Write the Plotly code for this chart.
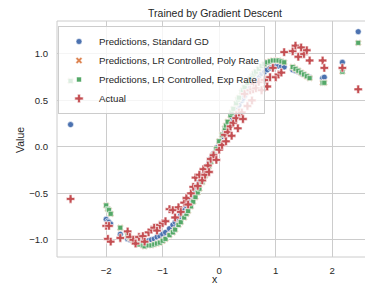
import plotly.graph_objects as go

x_vals = [-2.63, -2.0, -1.97, -1.95, -1.92, -1.75, -1.62, -1.58, -1.52, -1.48,
          -1.42, -1.35, -1.32, -1.25, -1.2, -1.15, -1.1, -1.05, -1.0, -0.95,
          -0.88, -0.82, -0.78, -0.72, -0.68, -0.62, -0.58, -0.55, -0.5, -0.46,
          -0.42, -0.38, -0.35, -0.3, -0.28, -0.25, -0.2, -0.18, -0.15, -0.1,
          -0.05, 0.0, 0.05, 0.1, 0.12, 0.15, 0.2, 0.22, 0.25, 0.3,
          0.33, 0.35, 0.4, 0.42, 0.45, 0.5, 0.55, 0.58, 0.6, 0.62,
          0.65, 0.7, 0.75, 0.8, 0.85, 0.9, 0.95, 1.0, 1.05, 1.1,
          1.15, 1.3, 1.35, 1.4, 1.45, 1.5, 1.55, 1.6, 1.83, 1.86,
          2.18, 2.46]

actual = [-0.56, -0.85, -0.99, -0.85, -1.02, -0.98, -0.91, -0.97, -1.0, -1.04,
          -0.97, -0.96, -1.02, -0.92, -0.89, -0.87, -0.9, -0.84, -0.82, -0.8,
          -0.67, -0.68, -0.76, -0.65, -0.7, -0.6, -0.55, -0.62, -0.5, -0.43,
          -0.33, -0.42, -0.3, -0.36, -0.24, -0.3, -0.2, -0.27, -0.13, -0.09,
          -0.14, -0.03, 0.02, 0.13, 0.06, 0.16, 0.22, 0.12, 0.26, 0.31,
          0.2, 0.37, 0.37, 0.3, 0.57, 0.44, 0.61, 0.5, 0.62, 0.68,
          0.63, 0.7, 0.61, 0.72, 0.65, 0.75, 0.85, 0.75, 0.78, 0.8,
          1.02, 1.03, 1.09, 0.97, 1.07, 1.0, 1.04, 0.93, 0.93, 0.85,
          0.85, 0.62]

pred_standard = [0.24, -0.78, -0.8, -0.81, -0.83, -0.94, -0.99, -1.0, -1.01, -1.02,
                 -1.02, -1.02, -1.02, -1.01, -1.0, -0.99, -0.97, -0.96, -0.94, -0.92,
                 -0.88, -0.84, -0.81, -0.77, -0.73, -0.68, -0.64, -0.61, -0.56, -0.51,
                 -0.47, -0.42, -0.38, -0.32, -0.3, -0.26, -0.2, -0.17, -0.13, -0.07,
                 -0.01, 0.05, 0.11, 0.17, 0.19, 0.23, 0.28, 0.31, 0.34, 0.4,
                 0.43, 0.45, 0.5, 0.52, 0.55, 0.6, 0.64, 0.67, 0.69, 0.7,
                 0.73, 0.76, 0.79, 0.81, 0.83, 0.85, 0.86, 0.87, 0.87, 0.87,
                 0.86, 0.83, 0.82, 0.81, 0.79, 0.78, 0.76, 0.75, 0.74, 0.75,
                 0.91, 1.24]

pred_poly = [0.71, -0.63, -0.67, -0.68, -0.72, -0.87, -0.95, -0.98, -1.01, -1.03,
             -1.05, -1.06, -1.07, -1.06, -1.06, -1.05, -1.04, -1.03, -1.01, -0.99,
             -0.95, -0.92, -0.89, -0.84, -0.81, -0.76, -0.72, -0.69, -0.64, -0.59,
             -0.54, -0.49, -0.45, -0.38, -0.35, -0.31, -0.24, -0.21, -0.16, -0.09,
             -0.02, 0.06, 0.13, 0.2, 0.23, 0.27, 0.34, 0.37, 0.41, 0.47,
             0.51, 0.53, 0.59, 0.61, 0.64, 0.69, 0.73, 0.76, 0.77, 0.79,
             0.81, 0.84, 0.87, 0.89, 0.91, 0.92, 0.93, 0.93, 0.93, 0.92,
             0.91, 0.86, 0.84, 0.82, 0.8, 0.78, 0.76, 0.74, 0.69, 0.69,
             0.81, 1.12]

pred_exp = [0.71, -0.63, -0.67, -0.68, -0.72, -0.87, -0.95, -0.98, -1.01, -1.03,
            -1.05, -1.06, -1.07, -1.06, -1.06, -1.05, -1.04, -1.03, -1.01, -0.99,
            -0.95, -0.92, -0.89, -0.84, -0.81, -0.76, -0.72, -0.69, -0.64, -0.59,
            -0.54, -0.49, -0.45, -0.38, -0.35, -0.31, -0.24, -0.21, -0.16, -0.09,
            -0.02, 0.06, 0.13, 0.2, 0.23, 0.27, 0.34, 0.37, 0.41, 0.47,
            0.51, 0.53, 0.59, 0.61, 0.64, 0.69, 0.73, 0.76, 0.77, 0.79,
            0.81, 0.84, 0.87, 0.89, 0.91, 0.92, 0.93, 0.93, 0.93, 0.92,
            0.91, 0.86, 0.84, 0.82, 0.8, 0.78, 0.76, 0.74, 0.69, 0.69,
            0.81, 1.12]

series = [
    ("Predictions, Standard GD", pred_standard, "#4C72B0", "circle", 6),
    ("Predictions, LR Controlled, Poly Rate", pred_poly, "#DD8452", "x", 6),
    ("Predictions, LR Controlled, Exp Rate", pred_exp, "#55A868", "square", 5),
    ("Actual", actual, "#C44E52", "cross", 7),
]

FONT = "Liberation Sans, Arial, sans-serif"
TXT = "#262626"
L, R, T, B = 57, 0, 21, 27
W, H = 365, 284
PW = W - L - R
PH = H - T - B

fig = go.Figure()
for name, ys, color, symbol, size in series:
    fig.add_trace(go.Scatter(
        x=x_vals, y=ys, mode="markers", name=name,
        marker=dict(color=color, symbol=symbol, size=size,
                    line=dict(color="white", width=0.6)),
    ))

fig.update_layout(
    width=W, height=H,
    margin=dict(l=L, r=R, t=T, b=B, pad=0, autoexpand=False),
    paper_bgcolor="white", plot_bgcolor="white",
    font=dict(family=FONT, color=TXT, size=9.6),
    title=dict(text="Trained by Gradient Descent", x=215 / W, xanchor="center",
               xref="container",
               y=1 - 13 / H, yanchor="middle", yref="container",
               font=dict(size=10.5, color=TXT)),
    legend=dict(x=(58 - L) / PW, y=1 - (26 - T) / PH, xanchor="left", yanchor="top",
                bgcolor="rgba(255,255,255,0.8)", bordercolor="#cccccc",
                borderwidth=1, font=dict(size=9.7, color=TXT),
                tracegroupgap=0),
    showlegend=True,
)
fig.update_xaxes(range=[-2.87, 2.58], tickvals=[-2, -1, 0, 1, 2],
                 automargin=False,
                 showgrid=True, gridcolor="#cccccc", gridwidth=1,
                 zeroline=False, showline=False,
                 ticks="outside", ticklen=4, tickcolor="rgba(0,0,0,0)",
                 tickfont=dict(size=9.6, color=TXT))
fig.update_yaxes(range=[-1.185, 1.355], tickvals=[-1.0, -0.5, 0.0, 0.5, 1.0],
                 tickformat=".1f", automargin=False,
                 showgrid=True, gridcolor="#cccccc", gridwidth=1,
                 zeroline=False, showline=False,
                 ticks="outside", ticklen=6, tickcolor="rgba(0,0,0,0)",
                 tickfont=dict(size=9.6, color=TXT))
fig.add_shape(type="rect", xref="paper", yref="paper", x0=0, x1=1.05, y0=0, y1=1,
              line=dict(color="#cccccc", width=1), fillcolor="rgba(0,0,0,0)", layer="below")
fig.add_annotation(text="x", xref="paper", yref="paper", x=(215 - L) / PW,
                   y=-(279 - (H - B)) / PH, xanchor="center", yanchor="middle",
                   showarrow=False, font=dict(size=10.5, color=TXT))
fig.add_annotation(text="Value", xref="paper", yref="paper", x=-(L - 20) / PW,
                   y=0.5 - (140 - (T + PH / 2)) / PH, xanchor="center", yanchor="middle",
                   textangle=-90, showarrow=False, font=dict(size=10.5, color=TXT))

fig.write_html("out.html",
               config={"displayModeBar": False},
               post_script="document.body.style.margin='0px';document.body.style.overflow='hidden';")
